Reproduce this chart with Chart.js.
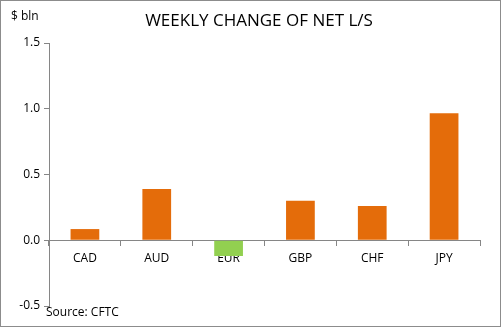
<!DOCTYPE html>
<html>
<head>
<meta charset="utf-8">
<script src="https://cdn.jsdelivr.net/npm/chart.js@4/dist/chart.umd.min.js"></script>
<style>
  html, body { margin: 0; padding: 0; background: #fff; }
  #wrap { width: 502px; height: 330px; position: relative; }
</style>
</head>
<body>
<div id="wrap"><canvas id="chart-net"></canvas></div>
<script>
// Datos
const monedas = ['CAD', 'AUD', 'EUR', 'GBP', 'CHF', 'JPY'];
const cambioNeto = [0.085, 0.39, -0.12, 0.30, 0.26, 0.965];
const ticksY = [-0.5, 0.0, 0.5, 1.0, 1.5];

const NARANJA = '#E46C0A';
const VERDE   = '#92D050';
const FUENTE  = "'Open Sans', sans-serif";

// Textos sueltos: título, unidad, fuente y marco
const textosPlugin = {
  id: 'textos',
  afterDraw(chart) {
    const c = chart.ctx;
    c.save();
    c.fillStyle = '#000';
    c.textBaseline = 'middle';
    c.font = `17px ${FUENTE}`;
    c.textAlign = 'center';
    c.fillText('WEEKLY CHANGE OF NET L/S', 259, 21);
    c.textAlign = 'left';
    c.font = `12px ${FUENTE}`;
    c.fillText('$ bln', 11, 17);
    c.fillText('Source: CFTC', 46, 313);
    c.strokeStyle = '#8c8c8c';
    c.lineWidth = 1;
    c.strokeRect(0.5, 0.5, 500, 326);
    c.restore();
  }
};

const ctx = document.getElementById('chart-net').getContext('2d');
new Chart(ctx, {
  type: 'bar',
  data: {
    labels: monedas,
    datasets: [{
      label: 'Weekly change',
      data: cambioNeto,
      backgroundColor: cambioNeto.map(v => v < 0 ? VERDE : NARANJA),
      borderWidth: 0,
      categoryPercentage: 1,
      barPercentage: 0.4,
    }]
  },
  options: {
    responsive: true,
    maintainAspectRatio: false,
    animation: false,
    layout: { padding: { left: 0, right: 22, top: 43, bottom: 24 } },
    plugins: { legend: { display: false }, tooltip: { enabled: false } },
    scales: {
      x: {
        position: { y: 0 },
        grid: { drawOnChartArea: false, drawTicks: true, tickLength: 5, color: '#868686', offset: true },
        border: { color: '#868686' },
        ticks: { color: '#000', padding: 6, font: { family: FUENTE, size: 12 } }
      },
      y: {
        min: -0.5,
        max: 1.5,
        afterBuildTicks: s => { s.ticks = ticksY.map(v => ({ value: v })); },
        afterFit: s => { s.width = 49; },
        grid: { drawOnChartArea: false, drawTicks: true, tickLength: 5, color: '#868686' },
        border: { color: '#868686' },
        ticks: {
          color: '#000', padding: 4,
          font: { family: FUENTE, size: 12 },
          callback: v => Number(v).toFixed(1)
        }
      }
    }
  },
  plugins: [textosPlugin]
});
</script>
</body>
</html>
